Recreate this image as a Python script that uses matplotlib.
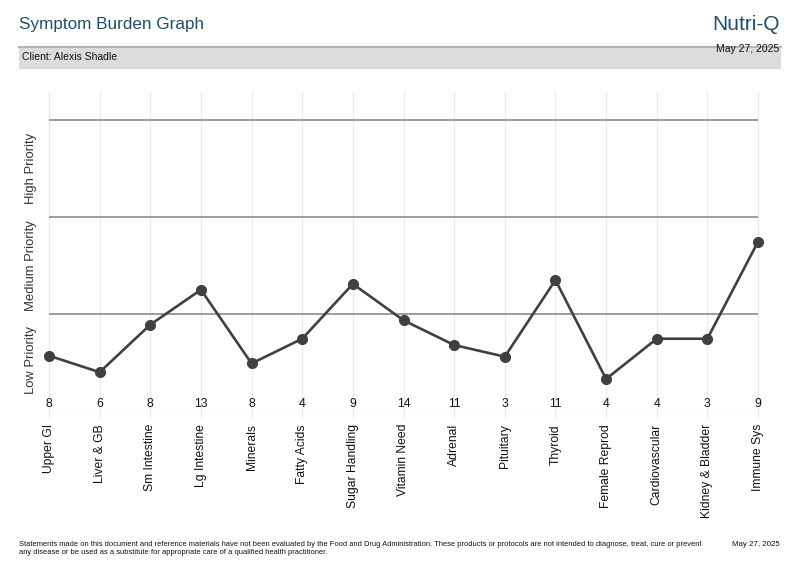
import matplotlib
matplotlib.use("Agg")
import matplotlib.pyplot as plt
from matplotlib.patches import Rectangle

plt.rcParams['font.family'] = ['Liberation Sans', 'DejaVu Sans']

# ---------- data ----------
categories = ['Upper GI', 'Liver & GB', 'Sm Intestine', 'Lg Intestine', 'Minerals',
              'Fatty Acids', 'Sugar Handling', 'Vitamin Need', 'Adrenal', 'Pituitary',
              'Thyroid', 'Female Reprod', 'Cardiovascular', 'Kidney & Bladder', 'Immune Sys']
scores = [8, 6, 8, 13, 8, 4, 9, 14, 11, 3, 11, 4, 4, 3, 9]
# position on the priority scale (0-1 low, 1-2 medium, 2-3 high)
burden = [0.57, 0.40, 0.89, 1.25, 0.49, 0.745, 1.31, 0.935, 0.68, 0.56,
          1.35, 0.33, 0.745, 0.745, 1.745]
bands = ['Low Priority', 'Medium Priority', 'High Priority']

title_col = '#1d4f6e'
line_col = '#404040'

fig = plt.figure(figsize=(8, 5.78), dpi=100)
W, H = 800, 578

def fy(py):  # pixel row -> figure fraction
    return 1 - py / H

# header
fig.text(19 / W, fy(24), 'Symptom Burden Graph', fontsize=12.3, color=title_col,
         ha='left', va='center')
fig.text(780 / W, fy(25), 'Nutri-Q', fontsize=15, color=title_col, ha='right', va='center')
fig.add_artist(Rectangle((19 / W, fy(69)), 762 / W, 22 / H, transform=fig.transFigure,
                         facecolor='#dcdcdc', edgecolor='none'))
fig.add_artist(plt.Line2D([19 / W, 781 / W], [fy(47), fy(47)], color='#b4b4b4', lw=1.5))
fig.text(22 / W, fy(57), 'Client: Alexis Shadle', fontsize=7.5, color='#111111',
         ha='left', va='center')
fig.text(779 / W, fy(49), 'May 27, 2025', fontsize=7.5, color='#111111',
         ha='right', va='center')

# plot area: x 49..758, y 411 (bottom) .. 91 (top); 97 px per band
ax = fig.add_axes([49 / W, fy(411), 709 / W, 320 / H])
n = len(categories)
ax.set_xlim(0, n - 1)
ax.set_ylim(0, 320 / 97)
for s in ax.spines.values():
    s.set_visible(False)
ax.set_xticks([])
ax.set_yticks([])

xs = list(range(n))
ax.vlines(xs, -7 / 97, 320 / 97, color='#ebebeb', lw=1, clip_on=False, zorder=0)
ax.hlines(0.0, 0, n - 1, color='#e6e6e6', lw=1, zorder=0)
ax.hlines([1, 2, 3], 0, n - 1, color='#8c8c8c', lw=1.2, zorder=1)

ax.plot(xs, burden, color=line_col, lw=1.9, marker='o', markersize=7,
        clip_on=False, zorder=3)

for x, s in zip(xs, scores):
    ax.text(x, 7 / 97, str(s), fontsize=8.7, ha='center', va='center', color='#111111')

for x, c in zip(xs, categories):
    ax.text(x, -13 / 97, c, fontsize=8.7, rotation=90, ha='center', va='top',
            color='#111111', clip_on=False)

for i, b in enumerate(bands):
    ax.text(-18 / 709 * (n - 1), i + 0.5 + (3 / 97 if i == 0 else 0), b, fontsize=9.4,
            rotation=90, ha='center', va='center', color='#333333', clip_on=False)

# footer
fig.text(19 / W, fy(544),
         'Statements made on this document and reference materials have not been evaluated by the Food and Drug '
         'Administration. These products or protocols are not intended to diagnose, treat, cure or prevent',
         fontsize=5.45, color='#111111', ha='left', va='center')
fig.text(19 / W, fy(553),
         'any disease or be used as a substitute for appropriate care of a qualified health practitioner.',
         fontsize=5.45, color='#111111', ha='left', va='center')
fig.text(780 / W, fy(544), 'May 27, 2025', fontsize=5.7, color='#111111', ha='right',
         va='center')

fig.savefig('out.png', dpi=100)
